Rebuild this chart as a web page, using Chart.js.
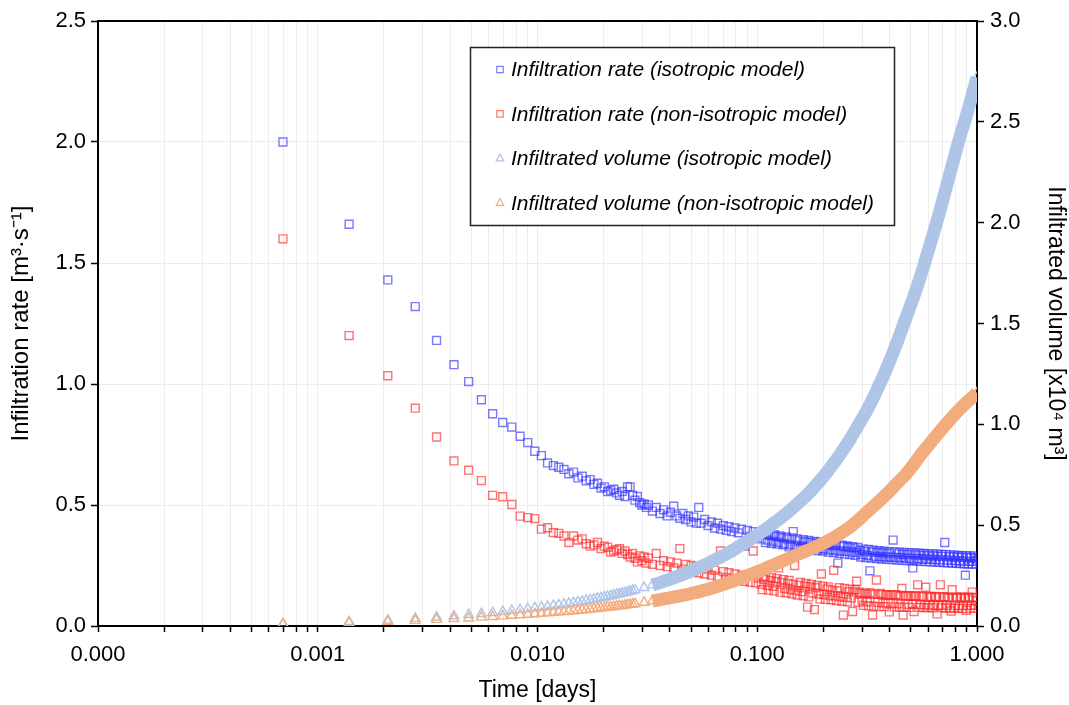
<!DOCTYPE html>
<html>
<head>
<meta charset="utf-8">
<script src="https://cdn.jsdelivr.net/npm/chart.js@4.4.1/dist/chart.umd.min.js"></script>
<style>
  html, body { margin: 0; padding: 0; background: #fff; }
  #wrap { position: relative; width: 1069px; height: 705px; }
</style>
</head>
<body>
<div id="wrap"><canvas id="chart" width="1069" height="705"></canvas></div>
<script>
// sample times in minutes from start (plotted in days)
const rateMinutes = [
  1,2,3,4,5,6,7,8,9,10,11,12,13,14,15,16,17,18,19,20,21,22,23,24,25,26,27,28,29,30,
  31,32,33,34,35,36,37,38,39,40,41,42,43,44,45,
  46,48,50,52,54,56,58,60,62,64,66,68,70,72,74,76,78,80,
  83,86,89,92,95,98,101,104,107,110,
  114,118,122,126,130,134,138,142,146,150,
  155,160,165,170,175,180,
  186,192,198,204,210,216,
  223,230,237,244,251,258,
  266,274,282,290,
  299,308,317,326,335,
  345,355,365,375,
  386,397,408,
  420,432,444,456,469,482,495,509,523,537,552,567,582,598,614,630,647,664,681,699,
  717,735,754,773,792,812,832,852,873,894,915,937,959,981,1004,1027,1050,1074,1098,1122,
  1147,1172,1197,1223,1249,1275,1302,1329,1356,1384,1412,1440,
  // in-between samples of the dense part
  152,157,162,167,172,177,183,189,195,201,207,213,219,226,233,240,247,254,262,270,
  278,286,294,303,312,321,330,340,350,360,370,380,391,402,414,
  426,438,450,462,475,488,502,516,530,544,559,574,590,606,622,638,655,672,690,708,
  726,744,763,782,802,822,842,862,883,904,926,948,970,992,1015,1038,1062,1086,1110,1134,
  1159,1184,1210,1236,1262,1288,1315,1342,1370,1398,1426
];

// infiltration rate [m3/s]
const rateIso = [
  2.00,1.66,1.43,1.32,1.18,1.08,1.01,0.935,0.877,0.841,0.822,0.784,0.758,0.722,0.704,
  0.674,0.663,0.656,0.647,0.629,0.636,0.612,0.619,0.60,0.605,0.585,0.59,0.57,0.575,0.555,
  0.56,0.565,0.55,0.54,0.556,0.535,0.575,0.575,0.54,0.52,0.535,0.51,0.50,0.505,0.49,
  0.50,0.475,0.49,0.465,0.48,0.455,0.47,0.495,0.455,0.445,0.465,0.44,0.455,0.43,0.45,0.425,0.49,0.425,
  0.44,0.415,0.43,0.405,0.425,0.40,0.415,0.395,0.41,0.39,
  0.405,0.385,0.40,0.33,0.395,0.37,0.39,0.365,0.385,0.36,
  0.38,0.355,0.375,0.35,0.37,0.345,
  0.365,0.34,0.36,0.335,0.39,0.333,
  0.352,0.33,0.348,0.326,0.345,0.323,
  0.342,0.32,0.338,0.318,
  0.335,0.315,0.332,0.312,0.26,
  0.31,0.328,0.308,0.325,
  0.305,0.322,0.303,
  0.312,0.296,0.308,0.292,0.228,0.306,0.288,0.304,0.286,0.302,0.285,0.30,0.284,0.355,0.283,0.298,0.282,0.296,0.28,0.295,
  0.279,0.24,0.294,0.278,0.293,0.277,0.292,0.276,0.29,0.275,0.29,0.274,0.289,0.273,0.288,0.345,0.272,0.287,0.271,0.286,
  0.27,0.285,0.269,0.284,0.268,0.21,0.283,0.267,0.282,0.267,0.28,0.272,
  0.385,0.345,0.38,0.342,0.377,0.338,0.372,0.335,0.368,0.327,0.364,0.325,0.36,0.322,0.357,0.318,0.354,0.315,0.35,0.312,
  0.347,0.31,0.344,0.305,0.341,0.303,0.338,0.30,0.334,0.297,0.331,0.295,0.328,0.292,0.325,
  0.285,0.318,0.283,0.316,0.281,0.313,0.279,0.311,0.277,0.309,0.275,0.307,0.274,0.306,0.272,0.305,0.271,0.304,0.27,0.303,
  0.269,0.302,0.268,0.301,0.267,0.30,0.266,0.299,0.265,0.298,0.264,0.297,0.263,0.296,0.262,0.295,0.261,0.294,0.26,0.293,
  0.259,0.292,0.258,0.291,0.257,0.29,0.256,0.29,0.256,0.289,0.256
];
const rateNonIso = [
  1.60,1.20,1.034,0.90,0.781,0.682,0.644,0.601,0.540,0.534,0.502,0.454,0.448,0.444,0.400,
  0.406,0.386,0.383,0.372,0.345,0.372,0.355,0.36,0.34,0.33,0.335,0.345,0.32,0.33,0.325,
  0.305,0.31,0.315,0.32,0.30,0.31,0.295,0.285,0.30,0.28,0.265,0.29,0.27,0.285,0.26,
  0.28,0.255,0.30,0.25,0.27,0.245,0.265,0.24,0.26,0.32,0.235,0.255,0.23,0.25,0.225,0.245,0.22,0.24,
  0.215,0.235,0.21,0.23,0.205,0.31,0.225,0.20,0.22,0.195,
  0.215,0.19,0.21,0.185,0.205,0.18,0.31,0.178,0.198,0.172,
  0.192,0.168,0.188,0.164,0.184,0.24,
  0.18,0.155,0.176,0.15,0.172,0.146,
  0.168,0.142,0.165,0.078,0.162,0.136,
  0.158,0.132,0.215,0.13,
  0.152,0.126,0.148,0.124,0.145,
  0.12,0.045,0.118,0.142,
  0.116,0.14,0.185,
  0.14,0.105,0.135,0.10,0.138,0.045,0.132,0.098,0.135,0.095,0.13,0.096,0.128,0.094,0.13,0.092,0.126,0.045,0.125,0.09,
  0.124,0.09,0.123,0.17,0.088,0.122,0.088,0.12,0.086,0.12,0.087,0.118,0.085,0.17,0.086,0.118,0.085,0.117,0.062,0.116,
  0.085,0.117,0.084,0.116,0.085,0.115,0.084,0.118,0.085,0.116,0.086,0.102,
  0.15,0.205,0.148,0.20,0.145,0.196,0.14,0.192,0.137,0.188,0.133,0.25,0.128,0.18,0.125,0.176,0.12,0.172,0.068,0.168,
  0.112,0.165,0.11,0.162,0.108,0.23,0.105,0.158,0.102,0.155,0.10,0.152,0.06,0.15,0.098,
  0.135,0.085,0.133,0.083,0.132,0.082,0.19,0.08,0.13,0.08,0.128,0.058,0.127,0.079,0.126,0.078,0.155,0.078,0.125,0.077,
  0.124,0.06,0.124,0.077,0.123,0.076,0.16,0.076,0.122,0.075,0.122,0.05,0.121,0.075,0.121,0.074,0.12,0.074,0.15,0.074,
  0.12,0.073,0.119,0.073,0.119,0.065,0.119,0.073,0.14,0.073,0.118
];

const volMinutes = [
  1,2,3,4,5,6,7,8,9,10,11,12,13,14,15,16,17,18,19,20,
  21,22,23,24,25,26,27,28,29,30,31,32,33,34,35,36,37,38,39,40,
  44,48,52,56,60,66,72,80,90,100,115,130,145,160,180,200,225,250,275,300,
  340,380,420,460,500,560,620,680,740,800,880,960,1040,1120,1200,1280,1360,1440
];

// infiltrated volume [x10^4 m3]
const volIso = [
  0.0115,0.021,0.029,0.037,0.044,0.050,0.056,0.061,0.066,0.071,
  0.076,0.080,0.085,0.089,0.093,0.097,0.101,0.104,0.108,0.112,
  0.115,0.119,0.122,0.126,0.129,0.133,0.136,0.139,0.143,0.146,
  0.149,0.152,0.156,0.159,0.162,0.165,0.168,0.172,0.175,0.178,
  0.19,0.203,0.215,0.227,0.239,0.256,0.273,0.295,0.322,0.347,
  0.385,0.42,0.453,0.486,0.527,0.567,0.617,0.665,0.715,0.765,
  0.845,0.925,1.005,1.08,1.16,1.28,1.40,1.52,1.63,1.74,
  1.89,2.03,2.17,2.30,2.42,2.52,2.62,2.72
];
const volNonIso = [
  0.0092,0.016,0.022,0.027,0.032,0.036,0.039,0.043,0.046,0.049,
  0.052,0.055,0.057,0.060,0.062,0.064,0.067,0.069,0.071,0.073,
  0.075,0.077,0.079,0.081,0.083,0.085,0.087,0.089,0.091,0.093,
  0.094,0.096,0.098,0.100,0.101,0.103,0.105,0.107,0.108,0.110,
  0.117,0.124,0.131,0.137,0.143,0.152,0.161,0.173,0.188,0.205,
  0.228,0.25,0.27,0.29,0.314,0.335,0.36,0.38,0.40,0.42,
  0.455,0.49,0.53,0.57,0.605,0.655,0.705,0.75,0.80,0.85,
  0.905,0.955,1.0,1.04,1.075,1.105,1.13,1.155
];

const xTickLabels = ['0.000', '0.001', '0.010', '0.100', '1.000'];
const seriesLabels = [
  'Infiltration rate (isotropic model)',
  'Infiltration rate (non-isotropic model)',
  'Infiltrated volume (isotropic model)',
  'Infiltrated volume (non-isotropic model)'
];

if (rateIso.length !== rateMinutes.length || rateNonIso.length !== rateMinutes.length ||
    volIso.length !== volMinutes.length || volNonIso.length !== volMinutes.length) {
  throw new Error('length mismatch ' + [rateMinutes.length, rateIso.length, rateNonIso.length,
    volMinutes.length, volIso.length, volNonIso.length].join(','));
}

const MIN_PER_DAY = 1440;
const FONT = '"Liberation Sans", Arial, Helvetica, sans-serif';

function toPoints(minutes, values) {
  return minutes.map((m, i) => ({ x: m / MIN_PER_DAY, y: values[i] }));
}

// volume marks are distinct triangles early on, merging into a solid band later
const bandFromMinute = 48;
const bandSegment = {
  borderColor: ctx => volMinutes[ctx.p0DataIndex] < bandFromMinute ? 'rgba(0,0,0,0)' : undefined
};

const colors = {
  rateIso: 'rgba(50,50,255,0.65)',
  rateNon: 'rgba(255,40,40,0.65)',
  volIso: '#afc5e7',
  volNon: '#f2ac7d'
};

// legend drawn inside the plot as a framed box
const boxLegend = {
  id: 'boxLegend',
  afterDraw(chart) {
    const ctx = chart.ctx;
    const area = chart.chartArea;
    ctx.save();
    // top frame line of the plot
    ctx.strokeStyle = '#000';
    ctx.lineWidth = 2;
    ctx.beginPath();
    ctx.moveTo(area.left - 1, area.top);
    ctx.lineTo(area.right + 1, area.top);
    ctx.stroke();

    const bx = 470, by = 47, bw = 424, bh = 178;
    ctx.fillStyle = '#fff';
    ctx.fillRect(bx, by, bw, bh);
    ctx.strokeStyle = '#222';
    ctx.lineWidth = 1.5;
    ctx.strokeRect(bx + 0.5, by + 0.5, bw, bh);

    ctx.font = 'italic 21px ' + FONT;
    ctx.textBaseline = 'middle';
    ctx.textAlign = 'left';
    chart.data.datasets.forEach((ds, i) => {
      const y = 69.5 + i * 44.4;
      const mx = 500;
      ctx.strokeStyle = ds.pointBorderColor;
      ctx.lineWidth = 1.2;
      ctx.beginPath();
      if (ds.pointStyle === 'rect') {
        ctx.rect(mx - 3.2, y - 3.2, 6.4, 6.4);
      } else {
        ctx.moveTo(mx, y - 4.2);
        ctx.lineTo(mx + 3.8, y + 2.6);
        ctx.lineTo(mx - 3.8, y + 2.6);
        ctx.closePath();
      }
      ctx.stroke();
      ctx.fillStyle = '#000';
      ctx.fillText(ds.label, 511, y + 1);
    });
    ctx.restore();
  }
};

const xTicks = [];
for (let e = -4; e <= 0; e++) {
  for (let m = 1; m <= 9; m++) {
    const v = m * Math.pow(10, e);
    if (v <= 1.0000001) xTicks.push(v);
  }
}

const tickFont = { family: FONT, size: 22 };
const titleFont = { family: FONT, size: 23 };

new Chart(document.getElementById('chart'), {
  type: 'scatter',
  data: {
    datasets: [
      {
        label: seriesLabels[0],
        data: toPoints(rateMinutes, rateIso),
        pointStyle: 'rect', pointRadius: 5.6, pointBorderWidth: 1.4,
        pointBorderColor: colors.rateIso, pointBackgroundColor: 'rgba(0,0,0,0)',
        yAxisID: 'y', order: 3
      },
      {
        label: seriesLabels[1],
        data: toPoints(rateMinutes, rateNonIso),
        pointStyle: 'rect', pointRadius: 5.6, pointBorderWidth: 1.4,
        pointBorderColor: colors.rateNon, pointBackgroundColor: 'rgba(0,0,0,0)',
        yAxisID: 'y', order: 2
      },
      {
        label: seriesLabels[2],
        data: toPoints(volMinutes, volIso),
        pointStyle: 'triangle', pointRadius: 5.6, pointBorderWidth: 1.4,
        pointBorderColor: colors.volIso, pointBackgroundColor: 'rgba(0,0,0,0)',
        showLine: true, borderColor: colors.volIso, borderWidth: 13,
        cubicInterpolationMode: 'monotone', segment: bandSegment,
        yAxisID: 'y2', order: 1
      },
      {
        label: seriesLabels[3],
        data: toPoints(volMinutes, volNonIso),
        pointStyle: 'triangle', pointRadius: 5.6, pointBorderWidth: 1.4,
        pointBorderColor: colors.volNon, pointBackgroundColor: 'rgba(0,0,0,0)',
        showLine: true, borderColor: colors.volNon, borderWidth: 13,
        cubicInterpolationMode: 'monotone', segment: bandSegment,
        yAxisID: 'y2', order: 0
      }
    ]
  },
  options: {
    responsive: false,
    animation: false,
    events: [],
    layout: { padding: { left: 0, right: 0, top: 21, bottom: 0 } },
    plugins: { legend: { display: false }, tooltip: { enabled: false } },
    scales: {
      x: {
        type: 'logarithmic',
        min: 0.0001, max: 1,
        afterBuildTicks: axis => { axis.ticks = xTicks.map(v => ({ value: v })); },
        afterFit: s => { s.height = 79; },
        ticks: {
          autoSkip: false, maxRotation: 0, padding: 10,
          font: tickFont, color: '#000',
          callback: v => {
            const e = Math.log10(v);
            return Math.abs(e - Math.round(e)) < 1e-6 ? xTickLabels[Math.round(e) + 4] : '';
          }
        },
        grid: { color: '#ececec', tickColor: '#000', tickLength: 6, lineWidth: 1, tickWidth: 1.5 },
        border: { color: '#000', width: 2 },
        title: { display: true, text: 'Time [days]', font: titleFont, color: '#000', padding: { bottom: 1 } }
      },
      y: {
        position: 'left',
        min: 0, max: 2.5,
        afterFit: s => { s.width = 98; },
        ticks: { stepSize: 0.5, font: tickFont, color: '#000', padding: 5, callback: v => v.toFixed(1) },
        grid: { color: '#ececec', tickColor: '#000', tickLength: 7, tickWidth: 1.5 },
        border: { color: '#000', width: 2 },
        title: { display: true, text: 'Infiltration rate [m³·s⁻¹]', font: { family: FONT, size: 24 }, color: '#000', padding: { top: 7 } }
      },
      y2: {
        position: 'right',
        min: 0, max: 3.0,
        afterFit: s => { s.width = 92; },
        ticks: { stepSize: 0.5, font: tickFont, color: '#000', padding: 6, callback: v => v.toFixed(1) },
        grid: { drawOnChartArea: false, tickColor: '#000', tickLength: 7, tickWidth: 1.5 },
        border: { color: '#000', width: 2 },
        title: { display: true, text: 'Infiltrated volume [x10⁴ m³]', font: titleFont, color: '#000', padding: { top: 0 } }
      }
    }
  },
  plugins: [boxLegend]
});
</script>
</body>
</html>
